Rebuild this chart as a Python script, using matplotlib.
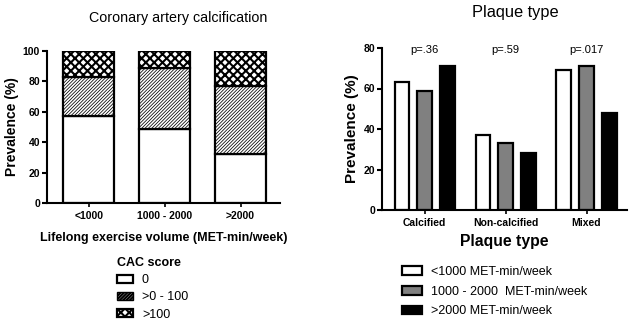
import matplotlib
matplotlib.use("Agg")
import matplotlib.pyplot as plt
import numpy as np
from matplotlib.patches import Patch

plt.rcParams['font.family'] = ['Liberation Sans', 'DejaVu Sans']

# Left panel data
volume_cats = ["<1000", "1000 - 2000", ">2000"]
cac_zero = [57, 49, 32]
cac_0_100 = [26, 40, 45]
cac_gt100 = [17, 11, 23]
cac_labels = ["0", ">0 - 100", ">100"]

# Right panel data
plaque_cats = ["Calcified", "Non-calcified", "Mixed"]
low_vol = [63, 37, 69]
mid_vol = [59, 33, 71]
high_vol = [71, 28, 48]
pvalues = ["p=.36", "p=.59", "p=.017"]
vol_labels = ["<1000 MET-min/week", "1000 - 2000  MET-min/week", ">2000 MET-min/week"]

W, H = 631, 329
fig = plt.figure(figsize=(W/100, H/100), dpi=100)

DIAG = '/' * 10
CROSS = 'xxxx'

def style_axes(ax):
    for s in ['top', 'right']:
        ax.spines[s].set_visible(False)
    for s in ['left', 'bottom']:
        ax.spines[s].set_linewidth(1.5)
    ax.tick_params(axis='y', direction='out', length=3.5, width=1.5, labelsize=7.5, pad=1.5)
    ax.tick_params(axis='x', direction='out', length=3, width=1.2, labelsize=7.5, pad=3)
    for lab in ax.get_xticklabels() + ax.get_yticklabels():
        lab.set_fontweight('bold')

# ---------- Left panel ----------
axL = fig.add_axes([47/W, 1-203/H, (280-47)/W, (203-51)/H])
x = np.arange(len(volume_cats))
bw = 0.67
plt.rcParams['hatch.linewidth'] = 0.55
axL.bar(x, cac_zero, bw, color='white', edgecolor='black', linewidth=1.6)
axL.bar(x, cac_0_100, bw, bottom=cac_zero, color='white', edgecolor='black',
        linewidth=1.6, hatch=DIAG)
plt.rcParams['hatch.linewidth'] = 1.5
bottom3 = np.array(cac_zero) + np.array(cac_0_100)
axL.bar(x, cac_gt100, bw, bottom=bottom3, color='white', edgecolor='black',
        linewidth=1.6, hatch=CROSS)
axL.set_xlim(-0.55, 2.52)
axL.set_ylim(0, 100)
axL.set_yticks([0, 20, 40, 60, 80, 100])
axL.set_xticks(x)
axL.set_xticklabels(volume_cats)
axL.set_ylabel("Prevalence (%)", fontsize=10, fontweight='bold', labelpad=3)
axL.set_xlabel("Lifelong exercise volume (MET-min/week)", fontsize=9, fontweight='bold', labelpad=8)
style_axes(axL)
fig.text(178/W, 1-18/H, "Coronary artery calcification", ha='center', va='center', fontsize=10.3)

plt.rcParams['hatch.linewidth'] = 0.55
hL = [Patch(facecolor='white', edgecolor='black', linewidth=1.6),
      Patch(facecolor='white', edgecolor='black', linewidth=1.0, hatch=DIAG)]
plt.rcParams['hatch.linewidth'] = 1.5
hL.append(Patch(facecolor='white', edgecolor='black', linewidth=1.6, hatch=CROSS))
legL = fig.legend(hL, cac_labels, loc='upper left', bbox_to_anchor=(117/W, 1-257/H),
                  frameon=False, fontsize=9, title="CAC score",
                  title_fontproperties={'weight': 'bold', 'size': 9},
                  handlelength=1.3, handleheight=0.6, handletextpad=0.7,
                  labelspacing=0.42, borderaxespad=0, borderpad=0)
legL._legend_box.align = "left"

# ---------- Right panel ----------
axR = fig.add_axes([382/W, 1-210/H, (627-382)/W, (210-48)/H])
xr = np.arange(len(plaque_cats))
off = 0.278
bwr = 0.185
axR.bar(xr - off, low_vol, bwr, color='white', edgecolor='black', linewidth=1.6)
axR.bar(xr, mid_vol, bwr, color='#808080', edgecolor='black', linewidth=1.6)
axR.bar(xr + off, high_vol, bwr, color='black', edgecolor='black', linewidth=1.6)
axR.set_xlim(-0.525, 2.5)
axR.set_ylim(0, 80)
axR.set_yticks([0, 20, 40, 60, 80])
axR.set_xticks(xr)
axR.set_xticklabels(plaque_cats)
axR.set_ylabel("Prevalence (%)", fontsize=11, fontweight='bold', labelpad=3)
axR.set_xlabel("Plaque type", fontsize=11.3, fontweight='bold', labelpad=4)
style_axes(axR)
for xi, p in zip(xr, pvalues):
    axR.text(xi, 79, p, ha='center', va='center', fontsize=8)
fig.text(515/W, 1-12/H, "Plaque type", ha='center', va='center', fontsize=11.8)

hR = [Patch(facecolor='white', edgecolor='black', linewidth=1.6),
      Patch(facecolor='#808080', edgecolor='black', linewidth=1.6),
      Patch(facecolor='black', edgecolor='black', linewidth=1.6)]
fig.legend(hR, vol_labels, loc='upper left', bbox_to_anchor=(402/W, 1-266/H),
           frameon=False, fontsize=9, handlelength=1.6, handleheight=0.65,
           handletextpad=0.75, labelspacing=0.62, borderaxespad=0, borderpad=0)

fig.savefig("out.png", dpi=100)
